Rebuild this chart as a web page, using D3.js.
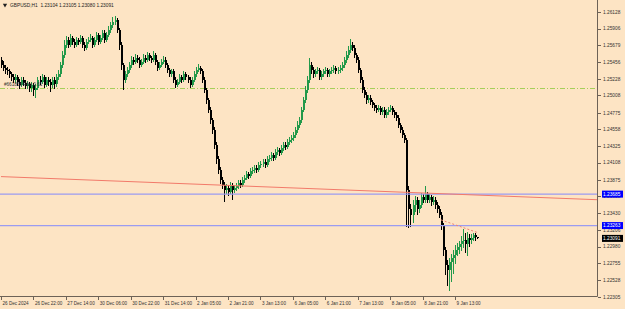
<!DOCTYPE html>
<html>
<head>
<meta charset="utf-8">
<script src="https://cdn.jsdelivr.net/npm/d3@7"></script>
<style>
  body { margin: 0; background: #fde4c4; }
  svg { display: block; }
</style>
</head>
<body>
<svg width="625" height="309"></svg>
<script>
// GBPUSD H1 bars from 26 Dec 2024 06:00
// open of each bar = close of the bar before (continuous FX feed)
const firstOpen = 1.2549;
const closes = [
  1.2542,1.2538,1.2535,1.2533,1.2529,1.2525,
  1.2522,1.2525,1.2519,1.2515,1.2522,1.2518,1.2514,1.2516,1.2511,
  1.2515,1.2508,1.2511,1.2522,1.2519,1.2525,1.2515,1.2522,
  1.2519,1.2515,1.2522,1.2516,1.2525,1.2529,1.2542,1.2555,
  1.2569,1.2575,1.2569,1.2578,1.2573,
  1.2569,1.2575,1.2573,1.2578,1.2569,1.2565,1.2573,1.2575,1.2578,1.2569,
  1.2575,1.2582,1.2573,1.2578,1.2585,1.2575,1.2582,
  1.2589,1.2595,1.2600,1.2602,1.2589,1.2569,
  1.2542,1.2522,
  1.2529,1.2535,1.2542,1.2549,1.2546,1.2551,1.2549,1.2542,1.2546,1.2551,
  1.2549,1.2555,1.2551,1.2549,1.2555,1.2546,1.2538,1.2542,1.2546,1.2549,
  1.2542,1.2535,1.2529,1.2533,1.2522,1.2515,1.2519,1.2525,1.2522,1.2529,
  1.2525,1.2522,1.2515,1.2522,1.2529,1.2535,1.2538,1.2533,
  1.2522,1.2508,1.2495,1.2482,1.2468,1.2455,
  1.2435,1.2415,1.2401,1.2388,1.2381,1.2374,
  1.2377,1.2372,1.2381,1.2374,1.2377,1.2380,1.2384,1.2381,
  1.2388,1.2390,1.2395,1.2393,1.2399,1.2401,1.2404,1.2401,1.2407,1.2409,1.2412,1.2408,
  1.2415,1.2417,1.2421,1.2417,1.2425,1.2428,1.2424,1.2431,1.2435,1.2432,1.2439,1.2441,1.2444,1.2448,1.2455,
  1.2461,1.2468,1.2482,1.2495,1.2508,1.2522,1.2542,
  1.2535,1.2529,1.2533,1.2535,1.2525,1.2529,1.2533,1.2535,
  1.2529,1.2533,1.2535,1.2538,1.2533,1.2535,1.2538,1.2542,1.2549,1.2555,
  1.2562,1.2569,1.2565,1.2555,1.2549,1.2535,
  1.2522,1.2508,1.2502,1.2495,1.2498,1.2492,
  1.2488,1.2484,1.2482,1.2484,1.2479,1.2482,1.2475,1.2479,1.2482,1.2484,1.2479,1.2475,1.2471,
  1.2461,1.2455,1.2448,1.2441,
  1.2374,1.2348,
  1.2341,1.2354,1.2361,1.2348,1.2354,1.2364,1.2361,1.2368,1.2361,
  1.2364,1.2358,1.2361,1.2354,1.2348,1.2341,
  1.2327,1.2294,1.2274,1.2267,1.2278,1.2283,
  1.2287,1.2294,1.2297,1.2301,1.2305,1.2307,1.2302,1.2310,1.2307,1.2310,1.2314,1.23104,1.23091
];
const highs = [
  1.2553,1.2547,1.2542,1.2539,1.2537,1.2532,
  1.2529,1.2530,1.2528,1.2523,1.2526,1.2525,1.2521,1.2520,1.2519,
  1.2519,1.2518,1.2516,1.2526,1.2527,1.2529,1.2528,1.2526,
  1.2526,1.2523,1.2526,1.2525,1.2529,1.2535,1.2546,1.2560,
  1.2575,1.2580,1.2579,1.2583,1.2581,
  1.2577,1.2579,1.2578,1.2582,1.2581,1.2572,1.2577,1.2579,1.2583,1.2581,
  1.2579,1.2586,1.2585,1.2582,1.2589,1.2588,1.2586,
  1.2594,1.2600,1.2606,1.2608,1.2605,1.2592,
  1.2572,1.2545,
  1.2534,1.2539,1.2546,1.2554,1.2553,1.2556,1.2555,1.2552,1.2550,1.2556,
  1.2555,1.2559,1.2558,1.2554,1.2560,1.2558,1.2549,1.2546,1.2550,1.2554,
  1.2552,1.2545,1.2538,1.2537,1.2536,1.2525,1.2523,1.2529,1.2528,1.2533,
  1.2532,1.2528,1.2525,1.2526,1.2533,1.2539,1.2543,1.2541,
  1.2536,1.2525,1.2511,1.2498,1.2486,1.2471,
  1.2458,1.2438,1.2419,1.2405,1.2392,1.2385,
  1.2382,1.2381,1.2385,1.2384,1.2381,1.2384,1.2388,1.2387,
  1.2392,1.2394,1.2399,1.2398,1.2403,1.2405,1.2408,1.2407,1.2411,1.2413,1.2416,1.2415,
  1.2419,1.2421,1.2425,1.2424,1.2429,1.2432,1.2431,1.2435,1.2439,1.2438,1.2443,1.2445,1.2448,1.2452,1.2459,
  1.2466,1.2472,1.2486,1.2499,1.2513,1.2527,1.2551,
  1.2546,1.2539,1.2537,1.2539,1.2538,1.2533,1.2537,1.2539,
  1.2538,1.2537,1.2539,1.2542,1.2541,1.2539,1.2542,1.2546,1.2553,1.2560,
  1.2567,1.2576,1.2573,1.2568,1.2558,1.2552,
  1.2538,1.2525,1.2512,1.2505,1.2502,1.2501,
  1.2495,1.2491,1.2488,1.2488,1.2487,1.2486,1.2485,1.2483,1.2486,1.2488,1.2487,1.2482,1.2478,
  1.2474,1.2464,1.2458,1.2451,
  1.2444,1.2380,
  1.2355,1.2360,1.2366,1.2365,1.2360,1.2370,1.2368,1.2380,1.2372,
  1.2369,1.2367,1.2366,1.2364,1.2358,1.2352,
  1.2345,1.2330,1.2298,1.2280,1.2283,1.2288,
  1.2293,1.2300,1.2303,1.2306,1.2312,1.2322,1.2316,1.2318,1.2315,1.2315,1.2317,1.2317,1.23105
];
const lows = [
  1.2538,1.2533,1.2530,1.2528,1.2524,1.2520,
  1.2517,1.2518,1.2514,1.2510,1.2512,1.2513,1.2509,1.2510,1.2506,
  1.2505,1.2500,1.2498,1.2508,1.2515,1.2516,1.2511,1.2512,
  1.2514,1.2506,1.2511,1.2510,1.2512,1.2521,1.2526,1.2538,
  1.2551,1.2565,1.2565,1.2566,1.2569,
  1.2565,1.2566,1.2569,1.2570,1.2565,1.2561,1.2562,1.2570,1.2572,1.2565,
  1.2566,1.2572,1.2569,1.2570,1.2575,1.2571,1.2572,
  1.2579,1.2585,1.2591,1.2596,1.2585,1.2562,
  1.2535,1.2508,
  1.2518,1.2526,1.2531,1.2538,1.2542,1.2543,1.2545,1.2538,1.2539,1.2543,
  1.2545,1.2546,1.2547,1.2545,1.2546,1.2542,1.2534,1.2535,1.2539,1.2543,
  1.2538,1.2531,1.2525,1.2526,1.2518,1.2511,1.2512,1.2516,1.2518,1.2519,
  1.2521,1.2518,1.2511,1.2512,1.2519,1.2526,1.2532,1.2529,
  1.2518,1.2504,1.2490,1.2477,1.2463,1.2449,
  1.2429,1.2409,1.2395,1.2382,1.2375,1.2358,
  1.2369,1.2366,1.2368,1.2361,1.2370,1.2373,1.2376,1.2377,
  1.2378,1.2384,1.2387,1.2389,1.2390,1.2395,1.2397,1.2397,1.2398,1.2403,1.2405,1.2404,
  1.2405,1.2411,1.2413,1.2413,1.2414,1.2421,1.2420,1.2421,1.2427,1.2428,1.2429,1.2435,1.2437,1.2440,1.2444,
  1.2451,1.2457,1.2464,1.2478,1.2491,1.2504,1.2518,
  1.2530,1.2524,1.2525,1.2529,1.2521,1.2521,1.2525,1.2529,
  1.2525,1.2525,1.2529,1.2531,1.2529,1.2529,1.2531,1.2534,1.2538,1.2545,
  1.2551,1.2558,1.2561,1.2551,1.2545,1.2531,
  1.2518,1.2504,1.2497,1.2490,1.2491,1.2488,
  1.2484,1.2480,1.2477,1.2478,1.2475,1.2475,1.2471,1.2471,1.2475,1.2478,1.2475,1.2471,1.2467,
  1.2457,1.2450,1.2444,1.2437,
  1.2325,1.2323,
  1.2325,1.2330,1.2345,1.2340,1.2343,1.2350,1.2356,1.2357,1.2356,
  1.2357,1.2352,1.2354,1.2349,1.2343,1.2336,
  1.2320,1.2285,1.2260,1.2245,1.2238,1.2250,
  1.2262,1.2275,1.2285,1.2288,1.2292,1.2296,1.2290,1.2286,1.2298,1.2302,1.2306,1.2306,1.23080
];

const priceLabels = [1.26128,1.25906,1.25679,1.25456,1.25228,1.25008,1.24775,1.24558,
  1.24325,1.24108,1.23875,1.23658,1.23430,1.23206,1.22980,1.22755,1.22528,1.22305];
const timeLabels = ["26 Dec 2024","26 Dec 22:00","27 Dec 14:00","30 Dec 06:00","30 Dec 22:00",
  "31 Dec 14:00","2 Jan 05:00","2 Jan 21:00","3 Jan 13:00","6 Jan 05:00","6 Jan 21:00",
  "7 Jan 13:00","8 Jan 05:00","8 Jan 21:00","9 Jan 13:00"];
const barsPerTimeLabel = 16;

const hLines = [1.23685, 1.23263];       // blue horizontal lines
const fibLevel = 1.2511;                  // fibo 0.61 level
const trendLine = [[0, 1.2392], [294, 1.2361]];
const shortTrend = [[217, 1.2334], [235, 1.2317]];
const header = ["GBPUSD,H1", "1.23104", "1.23105", "1.23080", "1.23091"];
const lastPrice = 1.23091;

const svg = d3.select("svg");
const W = 597, B = 296;

const x = d3.scaleLinear().domain([0, 294]).range([1, W]);
const y = d3.scaleLinear().domain([1.22305, 1.26128]).range([297, 12]);

const font = "Liberation Sans, Arial, sans-serif";

// frame
svg.append("line").attr("x1", W + 0.5).attr("x2", W + 0.5).attr("y1", 0).attr("y2", B + 0.5)
  .attr("stroke", "#6d6257").attr("stroke-width", 1);
svg.append("line").attr("x1", 0).attr("x2", W + 0.5).attr("y1", B + 0.5).attr("y2", B + 0.5)
  .attr("stroke", "#6d6257").attr("stroke-width", 1);

const plot = svg.append("g");

// fibo level
plot.append("line").attr("x1", 0).attr("x2", W)
  .attr("y1", Math.round(y(fibLevel)) + 0.5).attr("y2", Math.round(y(fibLevel)) + 0.5)
  .attr("stroke", "#a6cf5a").attr("stroke-width", 1).attr("stroke-dasharray", "5,2,1,2");

// candles
const candles = closes.map(function(c, i) {
  const o = i === 0 ? firstOpen : closes[i - 1];
  return {i: i, o: o, c: c, h: highs[i], l: lows[i]};
});
const col = function(d) { return d.c >= d.o ? "#22994a" : "#000"; };
const cx = function(d) { return Math.round(x(d.i)) + 0.5; };

plot.selectAll(".wick").data(candles).enter().append("line")
  .attr("x1", cx).attr("x2", cx)
  .attr("y1", function(d) { return y(d.h); }).attr("y2", function(d) { return y(d.l); })
  .attr("stroke", col).attr("stroke-width", 1)
  .style("shape-rendering", "crispEdges");

plot.selectAll(".body").data(candles).enter().append("rect")
  .attr("x", function(d) { return cx(d) - 0.5; })
  .attr("width", 2)
  .attr("y", function(d) { return y(Math.max(d.o, d.c)); })
  .attr("height", function(d) { return Math.max(1, Math.abs(y(d.o) - y(d.c))); })
  .attr("fill", col)
  .style("shape-rendering", "crispEdges");

plot.append("text").attr("x", 4).attr("y", y(fibLevel) - 1.5)
  .style("font-family", font).style("font-size", "4.6px").attr("fill", "#333")
  .text("#661858 Fibo 0.61");

// blue lines
plot.selectAll(".hl").data(hLines).enter().append("line")
  .attr("x1", 0).attr("x2", W)
  .attr("y1", function(d) { return y(d); }).attr("y2", function(d) { return y(d); })
  .attr("stroke", "#9b9bf0").attr("stroke-width", 1.3);

// red trend lines
plot.append("line")
  .attr("x1", x(trendLine[0][0])).attr("y1", y(trendLine[0][1]))
  .attr("x2", x(trendLine[1][0])).attr("y2", y(trendLine[1][1]))
  .attr("stroke", "#f27a6a").attr("stroke-width", 1);
plot.append("line")
  .attr("x1", x(shortTrend[0][0])).attr("y1", y(shortTrend[0][1]))
  .attr("x2", x(shortTrend[1][0])).attr("y2", y(shortTrend[1][1]))
  .attr("stroke", "#f08070").attr("stroke-width", 1).attr("stroke-dasharray", "2,2");

// price axis
const pa = svg.append("g");
pa.selectAll("line").data(priceLabels).enter().append("line")
  .attr("x1", W + 1).attr("x2", W + 4)
  .attr("y1", function(d) { return Math.round(y(d)) + 0.5; })
  .attr("y2", function(d) { return Math.round(y(d)) + 0.5; })
  .attr("stroke", "#6d6257");
pa.selectAll("text").data(priceLabels).enter().append("text")
  .attr("x", W + 6).attr("y", function(d) { return y(d) + 1.8; })
  .style("font-family", font).style("font-size", "4.8px").attr("fill", "#333")
  .text(function(d) { return d.toFixed(5); });

// price boxes
const boxes = hLines.map(function(v) { return {v: v, fill: "#0000ff"}; })
  .concat([{v: lastPrice, fill: "#000"}]);
const bx = svg.selectAll(".box").data(boxes).enter().append("g");
bx.append("rect").attr("x", W + 5).attr("width", 21)
  .attr("y", function(d) { return y(d.v) - 3.5; }).attr("height", 7)
  .attr("fill", function(d) { return d.fill; });
bx.append("text").attr("x", W + 6).attr("y", function(d) { return y(d.v) + 1.8; })
  .style("font-family", font).style("font-size", "4.8px").attr("fill", "#fff")
  .text(function(d) { return d.v.toFixed(5); });

// time axis
const ta = svg.append("g");
ta.selectAll("line").data(timeLabels).enter().append("line")
  .attr("x1", function(d, k) { return Math.round(x(k * barsPerTimeLabel)) + 0.5; })
  .attr("x2", function(d, k) { return Math.round(x(k * barsPerTimeLabel)) + 0.5; })
  .attr("y1", B).attr("y2", B + 4).attr("stroke", "#6d6257");
ta.selectAll("text").data(timeLabels).enter().append("text")
  .attr("x", function(d, k) { return x(k * barsPerTimeLabel) + 1.5; })
  .attr("y", 304.5)
  .style("font-family", font).style("font-size", "4.6px").attr("fill", "#333")
  .text(function(d) { return d; });

// header
svg.append("path").attr("d", d3.symbol(d3.symbolTriangle, 8)())
  .attr("transform", "translate(5,5) rotate(180)").attr("fill", "#222");
svg.append("text").attr("x", 10).attr("y", 6.8)
  .style("font-family", font).style("font-size", "4.8px").attr("fill", "#222")
  .attr("xml:space", "preserve")
  .text(header[0] + "  " + header.slice(1).join(" "));
</script>
</body>
</html>
